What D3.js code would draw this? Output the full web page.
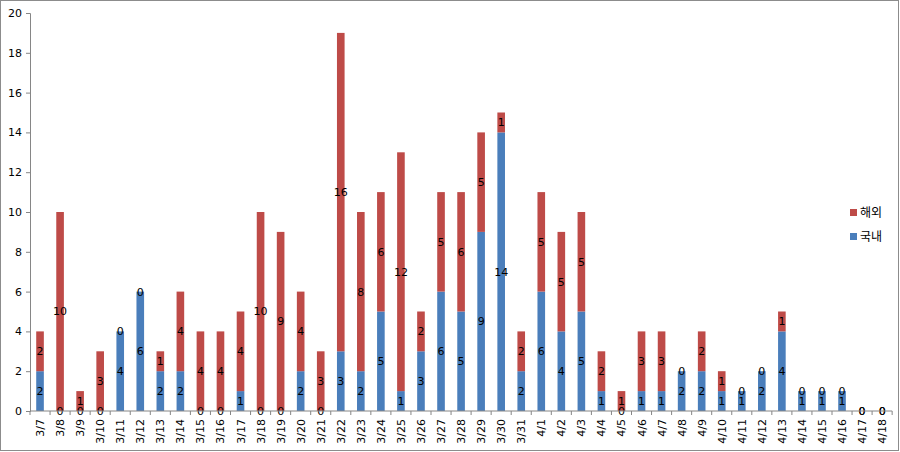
<!DOCTYPE html>
<html>
<head>
<meta charset="utf-8">
<script src="https://cdn.jsdelivr.net/npm/d3@7"></script>
<style>
  body { margin: 0; background: #fff; }
  svg { display: block; font-family: "DejaVu Sans", "Noto Sans CJK KR", sans-serif; }
</style>
</head>
<body>
<div id="chart"></div>
<script>
// 날짜
var dates = ["3/7","3/8","3/9","3/10","3/11","3/12","3/13","3/14","3/15","3/16",
  "3/17","3/18","3/19","3/20","3/21","3/22","3/23","3/24","3/25","3/26",
  "3/27","3/28","3/29","3/30","3/31","4/1","4/2","4/3","4/4","4/5",
  "4/6","4/7","4/8","4/9","4/10","4/11","4/12","4/13","4/14","4/15",
  "4/16","4/17","4/18"];
// 국내
var domestic = [2,0,0,0,4,6,2,2,0,0, 1,0,0,2,0,3,2,5,1,3, 6,5,9,14,2,6,4,5,1,0, 1,1,2,2,1,1,2,4,1,1, 1,0,0];
// 해외
var overseas = [2,10,1,3,0,0,1,4,4,4, 4,10,9,4,3,16,8,6,12,2, 5,6,5,1,2,5,5,5,2,1, 3,3,0,2,1,0,0,1,0,0, 0,0,0];
var yTicks = [0,2,4,6,8,10,12,14,16,18,20];

var W = 900, H = 452;
var margin = {left: 30, top: 13, right: 8, bottom: 41};

var svg = d3.select("#chart").append("svg")
  .attr("width", W).attr("height", H);

svg.append("rect")
  .attr("x", 0.5).attr("y", 0.5)
  .attr("width", W - 2).attr("height", H - 2)
  .attr("fill", "#fff").attr("stroke", "#8c8c8c");

var x = d3.scaleBand().domain(dates)
  .range([margin.left, margin.left + 43 * 20.05])
  .paddingInner(0.62).paddingOuter(0.31);
var y = d3.scaleLinear().domain([0, 20]).range([411, 13]);

var rows = dates.map(function (d, i) {
  return {date: d, dom: domestic[i], ovs: overseas[i]};
});

var g = svg.append("g");

// 국내 막대
g.selectAll(".dom").data(rows).enter().append("rect")
  .attr("x", function (d) { return x(d.date); })
  .attr("width", x.bandwidth())
  .attr("y", function (d) { return y(d.dom); })
  .attr("height", function (d) { return y(0) - y(d.dom); })
  .attr("fill", "#4a7ebb");

// 해외 막대
g.selectAll(".ovs").data(rows).enter().append("rect")
  .attr("x", function (d) { return x(d.date); })
  .attr("width", x.bandwidth())
  .attr("y", function (d) { return y(d.dom + d.ovs); })
  .attr("height", function (d) { return y(d.dom) - y(d.dom + d.ovs); })
  .attr("fill", "#be4b48");

// y축
var yAxis = svg.append("g")
  .attr("transform", "translate(" + margin.left + ",0)")
  .call(d3.axisLeft(y).tickValues(yTicks).tickSize(4).tickPadding(4));
yAxis.selectAll("text").attr("font-size", 11).attr("fill", "#000")
  .attr("font-family", "DejaVu Sans");
yAxis.selectAll("line").attr("stroke", "#868686");
yAxis.select(".domain").attr("stroke", "#868686");

// x축
var xRange = x.range();
var xAxis = svg.append("g").attr("transform", "translate(0," + y(0) + ")");
xAxis.append("line")
  .attr("x1", xRange[0]).attr("x2", xRange[1])
  .attr("stroke", "#868686");
xAxis.selectAll(".tk").data(d3.range(dates.length + 1)).enter().append("line")
  .attr("x1", function (k) { return xRange[0] + k * x.step(); })
  .attr("x2", function (k) { return xRange[0] + k * x.step(); })
  .attr("y1", 0).attr("y2", 4)
  .attr("stroke", "#868686");
xAxis.selectAll(".lbl").data(dates).enter().append("text")
  .attr("transform", function (d) {
    return "translate(" + (x(d) + x.bandwidth() / 2 + 4) + ",8) rotate(-90)";
  })
  .attr("text-anchor", "end")
  .attr("font-size", 11)
  .text(function (d) { return d; });

// 값 라벨
function addLabels(key, mid) {
  g.selectAll(".lb-" + key).data(rows).enter().append("text")
    .attr("x", function (d) { return x(d.date) + x.bandwidth() / 2; })
    .attr("y", function (d) { return mid(d); })
    .attr("dy", "0.36em")
    .attr("text-anchor", "middle")
    .attr("font-size", 11)
    .attr("fill", "#000")
    .text(function (d) { return d[key]; });
}
addLabels("dom", function (d) { return y(d.dom / 2); });
addLabels("ovs", function (d) { return y(d.dom + d.ovs / 2); });

// 범례
var legend = [{name: "해외", color: "#be4b48"}, {name: "국내", color: "#4a7ebb"}];
var lg = svg.selectAll(".lg").data(legend).enter().append("g")
  .attr("transform", function (d, i) { return "translate(850," + (213 + i * 24) + ")"; });
lg.append("rect").attr("x", 0).attr("y", -4).attr("width", 7).attr("height", 7)
  .attr("fill", function (d) { return d.color; });
lg.append("text").attr("x", 10).attr("y", 0).attr("dy", "0.36em")
  .attr("font-size", 12)
  .attr("font-family", "Noto Sans CJK KR")
  .text(function (d) { return d.name; });
</script>
</body>
</html>
